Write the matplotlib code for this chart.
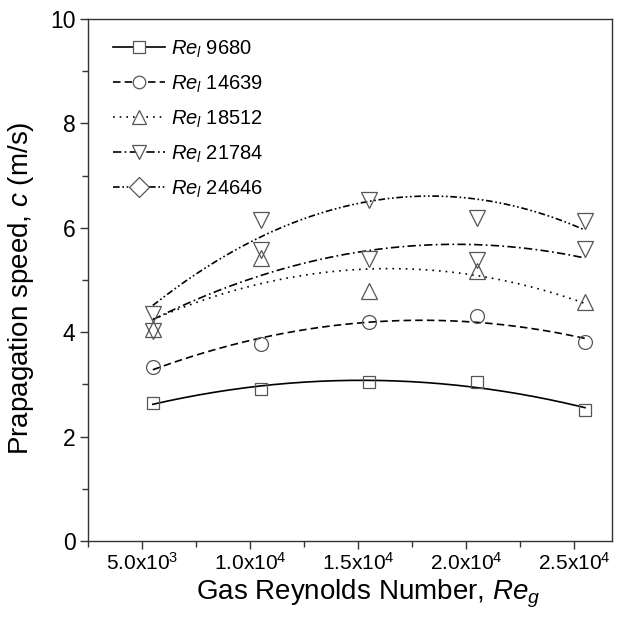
import matplotlib
matplotlib.use("Agg")
import matplotlib.pyplot as plt
from matplotlib.lines import Line2D
from matplotlib.ticker import MultipleLocator, FixedLocator
import numpy as np

plt.rcParams["font.family"] = ["Liberation Sans", "DejaVu Sans"]
plt.rcParams["mathtext.fontset"] = "custom"
plt.rcParams["mathtext.rm"] = "Liberation Sans"
plt.rcParams["mathtext.it"] = "Liberation Sans:italic"

# gas Reynolds numbers of the measurements
re_g = [5500, 10500, 15500, 20500, 25500]

# propagation speed (m/s) for each liquid Reynolds number
re_l = ["9680", "14639", "18512", "21784", "24646"]
c_9680 = [2.65, 2.92, 3.04, 3.04, 2.51]
c_14639 = [3.34, 3.77, 4.19, 4.31, 3.82]
c_18512 = [4.07, 5.42, 4.78, 5.17, 4.58]
c_21784 = [4.02, 5.58, 5.41, 5.39, 5.59]
c_24646 = [4.35, 6.14, 6.54, 6.19, 6.13]
speeds = [c_9680, c_14639, c_18512, c_21784, c_24646]

x_ticks = [5000, 10000, 15000, 20000, 25000]
x_tick_labels = ["5.0x10$^{3}$", "1.0x10$^{4}$", "1.5x10$^{4}$", "2.0x10$^{4}$", "2.5x10$^{4}$"]

# styles
plot_markers = ["s", "o", "^", "v", "v"]   # original plots the last series with triangles
legend_markers = ["s", "o", "^", "v", "D"]
msizes = [9, 10, 11, 11, 11]
linestyles = ["-", (0, (4.5, 2.5)), (0, (1, 3)), (0, (5, 2, 1, 2)), (0, (4, 1.6, 1, 1.6, 1, 1.6))]
edge = "#555555"

fig = plt.figure(figsize=(6.26, 6.20), dpi=100)
ax = fig.add_axes([88 / 626, 1 - 541 / 620, (612 - 88) / 626, (541 - 19) / 620])

xs = np.array(re_g, dtype=float)
xfine = np.linspace(xs.min(), xs.max(), 200)
handles = []
for i, ys in enumerate(speeds):
    # second-order fit through the measured points, as drawn in the original
    coef = np.polyfit(xs, ys, 2)
    ax.plot(xfine, np.polyval(coef, xfine), color="black", lw=1.2,
            linestyle=linestyles[i], zorder=2)
    ax.plot(xs, ys, linestyle="none", marker=plot_markers[i], ms=msizes[i],
            mfc="none", mec=edge, mew=0.9, zorder=3)
    handles.append(Line2D([], [], color="black", lw=1.2, linestyle=linestyles[i],
                          marker=legend_markers[i], ms=msizes[i] - 1, mfc="white",
                          mec=edge, mew=0.9))

labels = ["$Re_l$ " + r for r in re_l]
leg = ax.legend(handles, labels, loc="upper left", frameon=False, fontsize=14.5,
                handlelength=2.6, handletextpad=0.3, labelspacing=0.68,
                borderaxespad=0.3, bbox_to_anchor=(0.02, 0.99))

ax.set_xlim(2500, 26750)
ax.set_ylim(0, 10)
ax.xaxis.set_major_locator(FixedLocator(x_ticks))
ax.set_xticklabels(x_tick_labels)
ax.xaxis.set_minor_locator(MultipleLocator(2500))
ax.yaxis.set_major_locator(MultipleLocator(2))
ax.yaxis.set_minor_locator(MultipleLocator(1))
ax.tick_params(which="both", direction="out", top=False, right=False,
               width=1.0, color="#333333")
ax.tick_params(axis="x", labelsize=15, pad=2)
ax.tick_params(axis="y", labelsize=16.5, pad=3)
ax.tick_params(which="major", length=6)
ax.tick_params(which="minor", length=4)
for s in ax.spines.values():
    s.set_linewidth(1.0)
    s.set_color("#333333")

ax.set_xlabel("Gas Reynolds Number, $Re_g$", fontsize=20)
ax.xaxis.set_label_coords(0.535, -0.07)
ax.set_ylabel("Prapagation speed, $c$ (m/s)", fontsize=20)
ax.yaxis.set_label_coords(-0.1, 0.485)

fig.savefig("out.png", dpi=100)
